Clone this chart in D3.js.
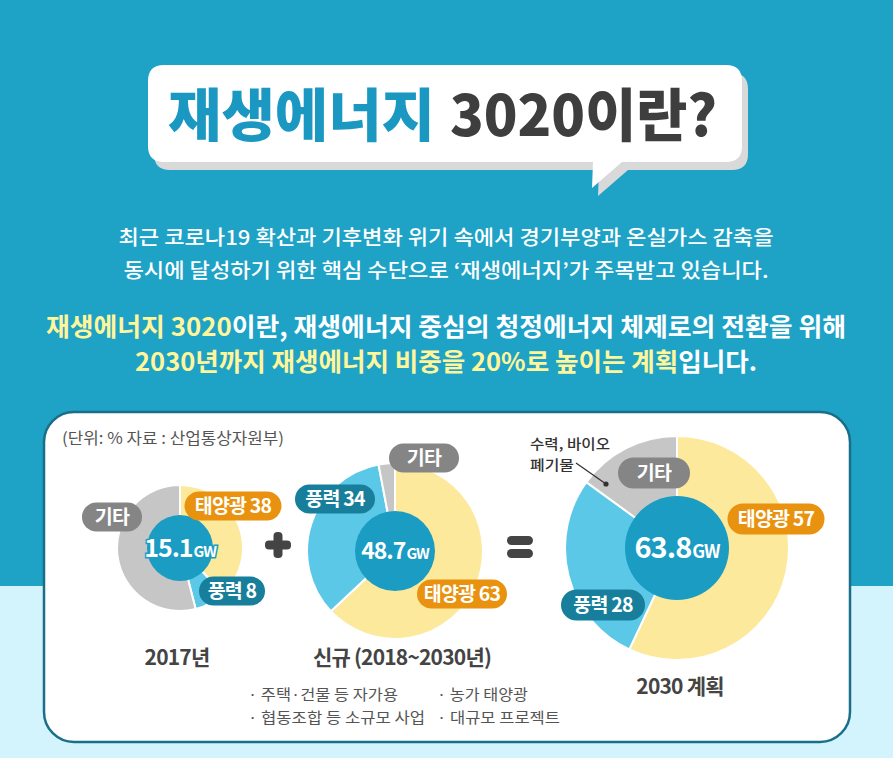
<!DOCTYPE html>
<html><head><meta charset="utf-8">
<script src="https://cdn.jsdelivr.net/npm/d3@7"></script>
<style>html,body{margin:0;padding:0;background:#1ea2c6;}svg{display:block;}</style>
</head><body>
<script>
// ---- data ----
const pieTitles = ["2017년", "신규 (2018~2030년)", "2030 계획"];
const totalsGW = ["15.1", "48.7", "63.8"];
const categories = ["태양광", "풍력", "기타"];
const solarShare = [38, 63, 57];
const windShare = [8, 34, 28];
const otherShare = [54, 3, 15];
const newBullets = ["주택·건물 등 자가용", "농가 태양광", "협동조합 등 소규모 사업", "대규모 프로젝트"];
const otherNote = ["수력, 바이오", "폐기물"];
const sourceNote = "(단위: % 자료 : 산업통상자원부)";

// ---- layout ----
const W = 893, H = 758;
const FONT = "'Noto Sans CJK KR','Noto Sans',sans-serif";
const col = {bg:"#1ea2c6", bgLight:"#d3f4fc", solar:"#fce99b", wind:"#5bc8e8", other:"#c6c6c6",
  inner:"#1a9cc3", pillSolar:"#e8920f", pillWind:"#177f9b", pillOther:"#858585", dark:"#444"};
const pies = [
  {cx:180, cy:548, r:63, ir:33, numSize:25, gwSize:15},
  {cx:395, cy:551, r:88, ir:40, numSize:23, gwSize:15},
  {cx:677, cy:548, r:112, ir:52, numSize:29, gwSize:18}
];
// pill label offsets relative to each pie centre [solar, wind, other]
const pillPos = [
  [{dx:53,dy:-42,w:97},{dx:52,dy:43,w:66},{dx:-68,dy:-31,w:60}],
  [{dx:67,dy:43,w:90},{dx:-60,dy:-52,w:80},{dx:29,dy:-93,w:70}],
  [{dx:99,dy:-29,w:97},{dx:-74,dy:57,w:84},{dx:-23,dy:-75,w:72}]
];
const bulletLayout = [{x:248,y:700,w:150},{x:437,y:700,w:91},{x:248,y:722.5,w:177},{x:437,y:722.5,w:123}];
const noteLayout = [{x:530,y:449,w:80},{x:530,y:469.5,w:44}];

const svg = d3.select("body").append("svg").attr("width",W).attr("height",H);
svg.append("rect").attr("width",W).attr("height",H).attr("fill",col.bgLight);
svg.append("rect").attr("width",W).attr("height",586).attr("fill",col.bg);

// ---- speech bubble title ----
const bub = svg.append("g");
const bubblePath = (ox,oy)=>{
  const x0=148+ox,y0=65+oy,x1=742+ox,y1=162+oy,r=16;
  return `M${x0+r},${y0} H${x1-r} Q${x1},${y0} ${x1},${y0+r} V${y1-r} Q${x1},${y1} ${x1-r},${y1}
   H${622+ox} L${592+ox},${188+oy} L${593+ox},${y1} H${x0+r} Q${x0},${y1} ${x0},${y1-r} V${y0+r} Q${x0},${y0} ${x0+r},${y0} Z`;
};
bub.append("path").attr("d",bubblePath(6,8)).attr("fill","#d9d9d9");
bub.append("path").attr("d",bubblePath(0,0)).attr("fill","#fff");
bub.append("text").attr("x",168).attr("y",136).attr("font-family",FONT).attr("font-weight",900)
  .attr("font-size",57).attr("fill","#1a98c2").attr("textLength",267).attr("lengthAdjust","spacingAndGlyphs").text("재생에너지");
bub.append("text").attr("x",450).attr("y",136).attr("font-family",FONT).attr("font-weight",900)
  .attr("font-size",57).attr("fill","#3e3e3e").attr("textLength",267).attr("lengthAdjust","spacingAndGlyphs").text("3020이란?");

// ---- intro text ----
const intro = [
  {y:245, size:20, w:"500", len:655, parts:[["최근 코로나19 확산과 기후변화 위기 속에서 경기부양과 온실가스 감축을","#fff"]]},
  {y:278, size:20, w:"500", len:645, parts:[["동시에 달성하기 위한 핵심 수단으로 ‘재생에너지’가 주목받고 있습니다.","#fff"]]},
  {y:336, size:25, w:"700", len:800, parts:[["재생에너지 3020","#fff59b"],["이란, 재생에너지 중심의 청정에너지 체제로의 전환을 위해","#fff"]]},
  {y:371, size:25, w:"700", len:622, parts:[["2030년까지 재생에너지 비중을 20%로 높이는 계획","#fff59b"],["입니다.","#fff"]]}
];
intro.forEach(l=>{
  const t = svg.append("text").attr("x",446).attr("y",l.y).attr("text-anchor","middle")
    .attr("font-family",FONT).attr("font-weight",l.w).attr("font-size",l.size)
    .attr("textLength",l.len).attr("lengthAdjust","spacingAndGlyphs");
  l.parts.forEach(p=>t.append("tspan").attr("fill",p[1]).text(p[0]));
});

// ---- card ----
svg.append("rect").attr("x",44).attr("y",412).attr("width",806).attr("height",330).attr("rx",30)
  .attr("fill","#fff").attr("stroke","#1a6f88").attr("stroke-width",2.5);
svg.append("text").attr("x",62).attr("y",444).attr("font-family",FONT).attr("font-size",16)
  .attr("fill","#555").attr("textLength",222).attr("lengthAdjust","spacingAndGlyphs").text(sourceNote);

// ---- pies ----
const pieGen = d3.pie().sort(null).value(d=>d.v);
const colorScale = d3.scaleOrdinal().domain(categories).range([col.solar,col.wind,col.other]);
const pillScale = d3.scaleOrdinal().domain(categories).range([col.pillSolar,col.pillWind,col.pillOther]);

pies.forEach((p,i)=>{
  const vals = [solarShare[i], windShare[i], otherShare[i]].map((v,k)=>({k:categories[k], v}));
  const g = svg.append("g").attr("transform",`translate(${p.cx},${p.cy})`);
  const arc = d3.arc().innerRadius(0).outerRadius(p.r);
  g.selectAll("path").data(pieGen(vals)).join("path").attr("d",arc)
    .attr("fill",d=>colorScale(d.data.k)).attr("stroke","#fff").attr("stroke-width",2);
  g.append("circle").attr("r",p.ir).attr("fill",col.inner);
  const t = g.append("text").attr("text-anchor","middle").attr("y",p.numSize*0.36)
    .attr("font-family",FONT).attr("font-weight",700).attr("fill","#fff")
    .attr("stroke",col.inner).attr("stroke-width",3).attr("paint-order","stroke").attr("letter-spacing",-1);
  t.append("tspan").attr("font-size",p.numSize).text(totalsGW[i]);
  t.append("tspan").attr("font-size",p.gwSize).attr("dx",1).text("GW");

  vals.forEach((d,k)=>{
    const pp = pillPos[i][k];
    const h = i===2 ? 31 : 29;
    const pg = g.append("g").attr("transform",`translate(${pp.dx},${pp.dy})`);
    pg.append("rect").attr("x",-pp.w/2).attr("y",-h/2).attr("width",pp.w).attr("height",h).attr("rx",h/2)
      .attr("fill",pillScale(d.k));
    pg.append("text").attr("text-anchor","middle").attr("y",7).attr("font-family",FONT)
      .attr("font-weight",700).attr("font-size",19.5).attr("fill","#fff").attr("letter-spacing",-0.8)
      .text(d.k==="기타" ? d.k : `${d.k} ${d.v}`);
  });
});

// pie titles
[{x:177,y:665},{x:402,y:665},{x:680,y:694}].forEach((pos,i)=>{
  svg.append("text").attr("x",pos.x).attr("y",pos.y).attr("text-anchor","middle").attr("font-family",FONT)
    .attr("font-weight",700).attr("font-size",21).attr("fill","#444").attr("letter-spacing",-0.8).text(pieTitles[i]);
});

// plus & equals
const plus = svg.append("g").attr("transform","translate(278,545)").attr("fill","#444");
plus.append("rect").attr("x",-13).attr("y",-4.5).attr("width",26).attr("height",9).attr("rx",4);
plus.append("rect").attr("x",-4.5).attr("y",-13).attr("width",9).attr("height",26).attr("rx",4);
const eq = svg.append("g").attr("transform","translate(520,547)").attr("fill","#444");
eq.append("rect").attr("x",-13).attr("y",-11).attr("width",26).attr("height",9).attr("rx",4.5);
eq.append("rect").attr("x",-13).attr("y",2).attr("width",26).attr("height",9).attr("rx",4.5);

// bullets
newBullets.forEach((b,k)=>{
  const L = bulletLayout[k];
  svg.append("text").attr("x",L.x).attr("y",L.y).attr("font-family",FONT)
    .attr("font-size",15).attr("fill","#555").attr("textLength",L.w).attr("lengthAdjust","spacingAndGlyphs")
    .text("· "+b);
});

// callout for 기타
otherNote.forEach((s,k)=>{
  const L = noteLayout[k];
  svg.append("text").attr("x",L.x).attr("y",L.y).attr("font-family",FONT)
    .attr("font-weight",500).attr("font-size",13.8).attr("fill","#333")
    .attr("textLength",L.w).attr("lengthAdjust","spacingAndGlyphs").text(s);
});
svg.append("line").attr("x1",576).attr("y1",463).attr("x2",606).attr("y2",484).attr("stroke","#333").attr("stroke-width",1.3);
svg.append("circle").attr("cx",606).attr("cy",484).attr("r",2.6).attr("fill","#333");
</script>
</body></html>
